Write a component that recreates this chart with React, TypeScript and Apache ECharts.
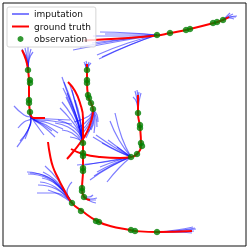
import React, { useEffect, useRef } from "react";
import * as echarts from "echarts";

type P = [number, number];

// Ground-truth trajectories (data frame: x right, y down)
const truthA: P[] = [[84, 40.5], [120, 38.5], [157, 35.5], [170, 33], [188, 29.5], [214, 23], [223, 20], [229, 17]];
const truthB: P[] = [[22, 50], [26, 60], [28, 70], [29, 82], [29, 100], [30, 112], [31, 116], [34, 118], [45, 118]];
const truthC: P[] = [[87, 64], [87, 70], [87, 82], [88, 96], [91, 103], [93, 110], [92, 118], [87, 132], [80, 143], [73, 152], [67, 159]];
const truthD: P[] = [[68, 82], [75, 91], [80, 103], [83, 118], [83, 133], [83, 143], [83, 154], [83, 170], [82, 189], [84, 197], [90, 200]];
const truthE: P[] = [[71, 149], [83, 154], [100, 157], [120, 158], [131, 157], [137, 154], [141, 145], [140, 127], [138, 113], [138, 95]];
const truthF: P[] = [[48, 142], [50, 155], [53, 167], [58, 178], [62, 186], [72, 203], [82, 211], [97, 221], [110, 226], [130, 230], [135, 231], [157, 232], [192, 231]];

// Observed points
const obsA: P[] = [[157, 35], [170, 33], [186, 30], [190, 29], [213, 23], [217, 22], [223, 20]];
const obsB: P[] = [[28, 70], [30, 80], [30, 83], [29, 100], [29, 103], [30, 112]];
const obsC: P[] = [[87, 70], [87, 80], [87, 83], [88, 95], [89, 98], [91, 103], [93, 109]];
const obsD: P[] = [[83, 143], [83, 153], [83, 156], [83, 168], [83, 171], [82, 188], [82, 191], [84, 197]];
const obsE: P[] = [[138, 113], [140, 125], [140, 128], [141, 143], [142, 146], [137, 154], [131, 157]];
const obsF: P[] = [[72, 203], [81, 211], [96, 221], [99, 222], [131, 230], [135, 231], [157, 232]];

// Imputation samples (each a short sampled path)
const impA: P[][] = [
  [[100, 32], [130, 33], [157, 35]],
  [[93, 36], [125, 36], [157, 35]],
  [[86, 40], [125, 38], [157, 35]],
  [[73, 50], [115, 42], [157, 35]],
  [[80, 47], [120, 40], [157, 35]],
  [[99, 59], [130, 45], [157, 35]],
  [[102, 57], [132, 44], [157, 35]],
  [[92, 43], [125, 39], [157, 35]],
  [[97, 55], [128, 43], [157, 35]],
  [[105, 34], [132, 34], [157, 35]],
  [[223, 20], [229, 16], [233, 14]],
  [[223, 20], [230, 17], [236, 17]],
  [[223, 20], [229, 18], [234, 19]],
  [[223, 20], [228, 15], [230, 13]],
  [[223, 20], [230, 17], [237, 16]],
];
const impB: P[][] = [
  [[28, 70], [26, 58], [22, 49]],
  [[28, 70], [27, 58], [25, 48]],
  [[28, 70], [28, 58], [28, 47]],
  [[28, 70], [29, 58], [31, 49]],
  [[28, 70], [29, 60], [33, 52]],
  [[28, 70], [27, 60], [23, 52]],
  [[30, 112], [30, 117], [24, 115], [14, 106]],
  [[30, 112], [31, 118], [28, 130], [17, 147]],
  [[30, 112], [31, 118], [28, 130], [20, 141]],
  [[30, 112], [31, 118], [29, 128], [25, 139]],
  [[30, 112], [32, 118], [43, 126], [55, 137]],
  [[30, 112], [32, 118], [42, 124], [52, 131]],
  [[30, 112], [32, 118], [48, 123], [63, 129]],
  [[30, 112], [32, 118], [50, 119], [70, 120]],
  [[30, 112], [32, 118], [52, 121], [72, 124]],
  [[30, 112], [31, 118], [24, 122], [18, 128]],
  [[30, 112], [32, 118], [38, 127], [44, 135]],
  [[30, 112], [32, 118], [46, 125], [58, 133]],
];
const impC: P[][] = [
  [[87, 70], [86, 66], [84, 62]],
  [[87, 70], [87, 66], [86, 61]],
  [[87, 70], [88, 66], [89, 62]],
  [[87, 70], [88, 67], [91, 63]],
  [[87, 70], [86, 67], [85, 64]],
  [[93, 110], [96, 117], [97, 127]],
  [[93, 110], [97, 115], [98, 122]],
  [[93, 110], [95, 120], [94, 133]],
  [[93, 110], [93, 120], [88, 132]],
  [[93, 110], [91, 120], [83, 133]],
  [[93, 110], [90, 118], [78, 128]],
  [[93, 110], [89, 116], [74, 122]],
  [[93, 110], [92, 122], [86, 138]],
  [[93, 110], [90, 120], [80, 132]],
  [[93, 110], [94, 119], [91, 130]],
];
const impD: P[][] = [
  [[62, 77], [70, 100], [78, 122], [83, 143]],
  [[64, 82], [72, 103], [79, 125], [83, 143]],
  [[67, 93], [74, 110], [80, 128], [83, 143]],
  [[62, 102], [72, 116], [79, 130], [83, 143]],
  [[58, 120], [70, 125], [79, 133], [83, 143]],
  [[55, 123], [68, 127], [78, 135], [83, 143]],
  [[62, 130], [72, 133], [83, 143]],
  [[70, 137], [78, 139], [83, 143]],
  [[72, 90], [77, 110], [81, 128], [83, 143]],
  [[70, 85], [76, 105], [81, 125], [83, 143]],
  [[75, 100], [80, 118], [83, 143]],
  [[60, 108], [71, 120], [79, 132], [83, 143]],
  [[66, 97], [74, 114], [80, 130], [83, 143]],
  [[63, 88], [72, 108], [79, 127], [83, 143]],
  [[84, 197], [90, 199], [97, 198]],
  [[84, 197], [89, 197], [93, 195]],
  [[84, 197], [90, 201], [96, 203]],
  [[84, 197], [90, 200], [96, 200]],
];
const impE: P[][] = [
  [[138, 113], [137, 100], [135, 91]],
  [[138, 113], [138, 100], [137, 90]],
  [[138, 113], [138, 101], [139, 92]],
  [[138, 113], [139, 102], [141, 93]],
  [[138, 113], [137, 103], [133, 97]],
  [[93, 137], [112, 148], [131, 157]],
  [[115, 113], [122, 138], [131, 157]],
  [[110, 121], [119, 140], [131, 157]],
  [[117, 147], [124, 152], [131, 157]],
  [[108, 140], [120, 149], [131, 157]],
  [[90, 180], [110, 167], [131, 157]],
  [[107, 182], [119, 168], [131, 157]],
  [[100, 167], [116, 161], [131, 157]],
  [[77, 165], [105, 162], [131, 157]],
  [[97, 172], [115, 163], [131, 157]],
  [[96, 135], [114, 147], [131, 157]],
  [[102, 143], [117, 151], [131, 157]],
  [[94, 176], [113, 165], [131, 157]],
  [[85, 165], [108, 161], [131, 157]],
];
const impF: P[][] = [
  [[27, 172], [45, 176], [60, 187], [72, 203]],
  [[28, 174], [47, 178], [62, 190], [72, 203]],
  [[43, 172], [55, 180], [65, 192], [72, 203]],
  [[40, 182], [55, 187], [72, 203]],
  [[37, 193], [55, 193], [72, 203]],
  [[48, 190], [60, 195], [72, 203]],
  [[45, 166], [58, 180], [72, 203]],
  [[72, 182], [69, 186], [67, 192], [72, 203]],
  [[38, 185], [56, 189], [72, 203]],
  [[30, 173], [48, 177], [62, 189], [72, 203]],
  [[42, 178], [57, 185], [72, 203]],
  [[157, 232], [175, 231], [195, 228]],
  [[157, 232], [176, 232], [194, 231]],
  [[157, 232], [176, 230], [193, 227]],
  [[157, 232], [175, 232], [192, 233]],
  [[157, 232], [176, 231], [196, 229]],
];

const truths = [truthA, truthB, truthC, truthD, truthE, truthF];
const observations = [obsA, obsB, obsC, obsD, obsE, obsF];
const imputations = [impA, impB, impC, impD, impE, impF];

export default function App() {
  const ref = useRef<HTMLDivElement>(null);
  useEffect(() => {
    if (!ref.current) return;
    const chart = echarts.init(ref.current, undefined, { renderer: "svg" });
    const series: any[] = [];
    imputations.forEach((group) =>
      group.forEach((line) =>
        series.push({
          name: "imputation",
          type: "line",
          data: line,
          smooth: true,
          symbol: "none",
          lineStyle: { color: "#0000ff", width: 1.2, opacity: 0.5 },
          itemStyle: { color: "#0000ff" },
          z: 2,
        })
      )
    );
    truths.forEach((t) =>
      series.push({
        name: "ground truth",
        type: "line",
        data: t,
        smooth: true,
        symbol: "none",
        lineStyle: { color: "#ff0000", width: 2 },
        itemStyle: { color: "#ff0000" },
        z: 3,
      })
    );
    observations.forEach((o) =>
      series.push({
        name: "observation",
        type: "scatter",
        data: o,
        symbol: "circle",
        symbolSize: 6.5,
        itemStyle: { color: "#008000" },
        z: 4,
      })
    );
    const hidden = { color: "transparent", opacity: 0, borderWidth: 0 };
    chart.setOption({
      animation: false,
      grid: {
        left: 3,
        top: 3,
        right: 3,
        bottom: 3,
        show: true,
        borderColor: "#111",
        borderWidth: 1,
        backgroundColor: "#fff",
      },
      xAxis: {
        type: "value",
        min: 3,
        max: 246,
        axisLine: { show: false },
        axisTick: { show: false },
        axisLabel: { show: false },
        splitLine: { show: false },
      },
      yAxis: {
        type: "value",
        min: 3,
        max: 246,
        inverse: true,
        axisLine: { show: false },
        axisTick: { show: false },
        axisLabel: { show: false },
        splitLine: { show: false },
      },
      legend: {
        orient: "vertical",
        left: 7,
        top: 7,
        itemWidth: 17,
        itemHeight: 6,
        itemGap: 3.5,
        padding: [2.5, 5, 3.5, 4],
        borderColor: "#cccccc",
        borderWidth: 0.8,
        borderRadius: 2,
        backgroundColor: "rgba(255,255,255,0.8)",
        textStyle: { fontFamily: "DejaVu Sans", fontSize: 9, color: "#111" },
        data: [
          { name: "imputation", itemStyle: hidden },
          { name: "ground truth", itemStyle: hidden },
          { name: "observation", icon: "circle" },
        ],
        z: 10,
      },
      series,
    });
    return () => chart.dispose();
  }, []);
  return <div ref={ref} style={{ position: "fixed", left: 0, top: 0, width: 249, height: 249 }} />;
}
